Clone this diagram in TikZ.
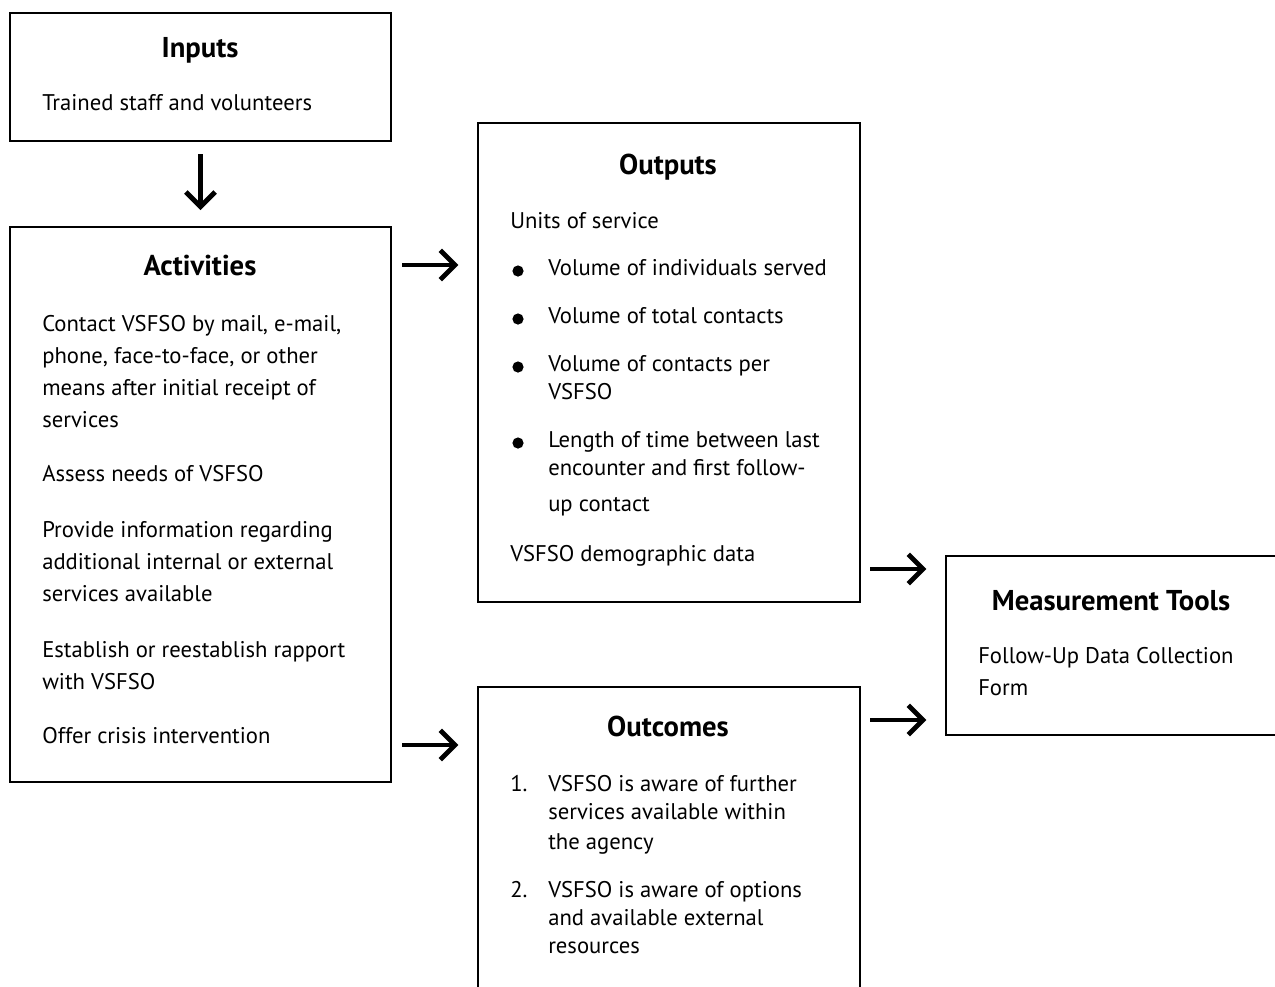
\documentclass[tikz,border=0pt]{standalone}
\usepackage{fontspec}
\setmainfont{PT Sans}
\usetikzlibrary{arrows.meta}
\newcommand\tline[4]{\node[body] (#1) at (#2,#3) {#4};}
\begin{document}
\begin{tikzpicture}[x=0.75pt,y=-0.75pt,
  box/.style={draw, line width=1.5pt, anchor=north west, inner sep=0pt},
  body/.style={inner sep=0pt, anchor=mid west, yshift=-3.5pt, font=\fontsize{17}{20}\selectfont},
  head/.style={inner sep=0pt, anchor=mid, yshift=-3pt, font=\bfseries\fontsize{21.5}{25}\selectfont},
  arr/.style={line width=3.6pt, -{Straight Barb[length=11pt,width=22pt]}},
  bullet/.style={radius=4.2pt}]
\useasboundingbox (0,0) rectangle (1275,986);

% boxes
\node[box, minimum width=381*0.75pt, minimum height=128*0.75pt] (inp) at (9,12) {};
\node[box, minimum width=381*0.75pt, minimum height=555*0.75pt] (act) at (9,226) {};
\node[box, minimum width=382*0.75pt, minimum height=479*0.75pt] (out) at (477,122) {};
\node[box, minimum width=382*0.75pt, minimum height=340*0.75pt] (oc) at (477,686) {};
\node[box, minimum width=360*0.75pt, minimum height=179*0.75pt] (mt) at (945,555) {};

% Inputs
\node[head] (inph) at (200,50) {Inputs};
\tline{i1}{42}{102}{Trained staff and volunteers}

% Activities
\node[head] (acth) at (200,268) {Activities};
\tline{a1}{42}{323}{Contact VSFSO by mail, e-mail,}
\tline{a2}{42}{355}{phone, face-to-face, or other}
\tline{a3}{42}{387}{means after initial receipt of}
\tline{a4}{42}{419}{services}
\tline{a5}{42}{473}{Assess needs of VSFSO}
\tline{a6}{42}{529}{Provide information regarding}
\tline{a7}{42}{561}{additional internal or external}
\tline{a8}{42}{593}{services available}
\tline{a9}{42}{649}{Establish or reestablish rapport}
\tline{a10}{42}{681}{with VSFSO}
\tline{a11}{42}{735}{Offer crisis intervention}

% Outputs
\node[head] (outh) at (668,167) {Outputs};
\tline{o1}{510}{220}{Units of service}
\fill (518,271) circle[bullet];
\tline{o2}{548}{267}{Volume of individuals served}
\fill (518,319) circle[bullet];
\tline{o3}{548}{315}{Volume of total contacts}
\fill (518,367) circle[bullet];
\tline{o4}{548}{363}{Volume of contacts per}
\tline{o5}{548}{391}{VSFSO}
\fill (518,443) circle[bullet];
\tline{o6}{548}{439}{Length of time between last}
\tline{o7}{548}{467}{encounter and first follow-}
\tline{o8}{548}{503}{up contact}
\tline{o9}{510}{553}{VSFSO demographic data}

% Outcomes
\node[head] (och) at (668,729) {Outcomes};
\tline{n1}{510}{783}{1.}
\tline{c1}{548}{783}{VSFSO is aware of further}
\tline{c2}{548}{811}{services available within}
\tline{c3}{548}{841}{the agency}
\tline{n2}{510}{889}{2.}
\tline{c4}{548}{889}{VSFSO is aware of options}
\tline{c5}{548}{917}{and available external}
\tline{c6}{548}{945}{resources}

% Measurement Tools
\node[head] (mth) at (1111,603) {Measurement Tools};
\tline{m1}{978}{655}{Follow-Up Data Collection}
\tline{m2}{978}{687}{Form}

% arrows
\coordinate (r1) at (0,265);
\coordinate (r2) at (0,745);
\coordinate (r3) at (0,569);
\coordinate (r4) at (0,720);
\draw[arr, shorten <=9pt, shorten >=12pt] (inp.south) -- (act.north);
\draw[arr, shorten <=7.5pt, shorten >=14pt] (act.east |- r1) -- (out.west |- r1);
\draw[arr, shorten <=7.5pt, shorten >=14pt] (act.east |- r2) -- (oc.west |- r2);
\draw[arr, shorten <=7pt, shorten >=14pt] (out.east |- r3) -- (mt.west |- r3);
\draw[arr, shorten <=7pt, shorten >=14pt] (oc.east |- r4) -- (mt.west |- r4);
\end{tikzpicture}
\end{document}
